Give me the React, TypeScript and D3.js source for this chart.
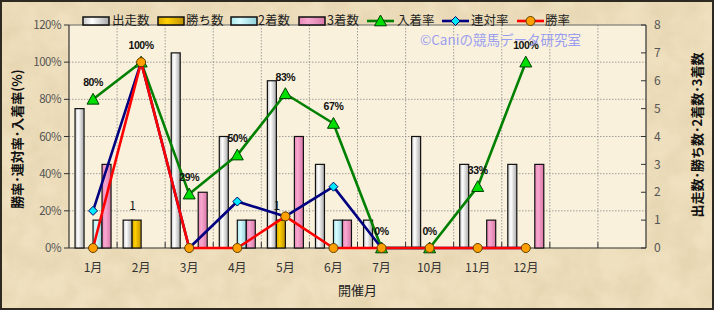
import React from "react";
import * as d3 from "d3";

const months = ["1月", "2月", "3月", "4月", "5月", "6月", "7月", "10月", "11月", "12月"];
const slotCount = 12;
const starts = [5, 1, 7, 4, 6, 3, 1, 4, 3, 3];
const wins = [0, 1, 0, 0, 1, 0, 0, 0, 0, 0];
const seconds = [1, 0, 0, 1, 0, 1, 0, 0, 0, 0];
const thirds = [3, 0, 2, 1, 4, 1, 0, 0, 1, 3];
const placeRate = [0.8, 1, 0.29, 0.5, 0.83, 0.67, 0, 0, 0.33, 1];
const placeLabels = ["80%", "100%", "29%", "50%", "83%", "67%", "0%", "0%", "33%", "100%"];
const quinellaRate = [0.2, 1, 0, 0.25, 0.17, 0.33, 0, 0, 0, 0];
const winRate = [0, 1, 0, 0, 0.17, 0, 0, 0, 0, 0];
const leftTicks = [0, 0.2, 0.4, 0.6, 0.8, 1.0, 1.2];
const rightTicks = [0, 1, 2, 3, 4, 5, 6, 7, 8];

const W = 714, H = 310;
const L = 69, R = 646, T = 25, B = 248;
const FONT = "'Noto Sans CJK JP', sans-serif";

export default function App() {
  const x = d3.scaleBand<number>().domain(d3.range(slotCount)).range([L, R]).padding(0);
  const yL = d3.scaleLinear().domain([0, 1.2]).range([B, T]);
  const yR = d3.scaleLinear().domain([0, 8]).range([B, T]);
  const groupW = 36;
  const inner = d3.scaleBand<number>().domain([0, 1, 2, 3]).range([0, groupW]).padding(0);
  const cx = (i: number) => (x(i) as number) + x.bandwidth() / 2;

  const barSeries = [
    { name: "出走数", values: starts, grad: "gWhite" },
    { name: "勝ち数", values: wins, grad: "gGold" },
    { name: "2着数", values: seconds, grad: "gCyan" },
    { name: "3着数", values: thirds, grad: "gPink" },
  ];
  const lineSeries = [
    { name: "入着率", values: placeRate, color: "#008000", marker: "tri" },
    { name: "連対率", values: quinellaRate, color: "#000080", marker: "dia" },
    { name: "勝率", values: winRate, color: "#ff0000", marker: "cir" },
  ];

  const line = d3.line<number>().x((_, i) => cx(i)).y((d) => yL(d));

  const marker = (type: string, px: number, py: number, key: string) => {
    if (type === "tri") {
      const s = 6;
      return (
        <path key={key} d={`M${px},${py - s}L${px + s},${py + s * 0.8}L${px - s},${py + s * 0.8}Z`}
          fill="#00e000" stroke="#004000" strokeWidth={1} />
      );
    }
    if (type === "dia") {
      const s = 4.5;
      return (
        <path key={key} d={`M${px},${py - s}L${px + s},${py}L${px},${py + s}L${px - s},${py}Z`}
          fill="#00e8ff" stroke="#000060" strokeWidth={1} />
      );
    }
    return <circle key={key} cx={px} cy={py} r={4.5} fill="#ffa000" stroke="#604000" strokeWidth={1} />;
  };

  const legendBars = [
    { x: 83, tx: 112 },
    { x: 158, tx: 186 },
    { x: 231, tx: 258 },
    { x: 299, tx: 327 },
  ];
  const legendLines = [
    { x: 367, tx: 397 },
    { x: 442, tx: 471 },
    { x: 517, tx: 545 },
  ];
  const ly = 21;

  return (
    <svg width={W} height={H} style={{ position: "absolute", left: 0, top: 0 }} fontFamily={FONT}>
      <defs>
        <linearGradient id="gWhite" x1="0" x2="1" y1="0" y2="0">
          <stop offset="0" stopColor="#c8c8c8" />
          <stop offset="0.35" stopColor="#ffffff" />
          <stop offset="1" stopColor="#a8a8a8" />
        </linearGradient>
        <linearGradient id="gGold" x1="0" x2="1" y1="0" y2="0">
          <stop offset="0" stopColor="#d8a800" />
          <stop offset="0.35" stopColor="#ffd000" />
          <stop offset="1" stopColor="#c09000" />
        </linearGradient>
        <linearGradient id="gCyan" x1="0" x2="1" y1="0" y2="0">
          <stop offset="0" stopColor="#a8e8ec" />
          <stop offset="0.35" stopColor="#d8fcff" />
          <stop offset="1" stopColor="#90d0d8" />
        </linearGradient>
        <linearGradient id="gPink" x1="0" x2="1" y1="0" y2="0">
          <stop offset="0" stopColor="#e888b8" />
          <stop offset="0.35" stopColor="#f8a8d0" />
          <stop offset="1" stopColor="#d878a8" />
        </linearGradient>
        <filter id="paper" x="0" y="0" width="100%" height="100%">
          <feTurbulence type="fractalNoise" baseFrequency="0.04" numOctaves={4} seed={3} result="n" />
          <feColorMatrix type="matrix" in="n"
            values="0 0 0 0 0.55  0 0 0 0 0.42  0 0 0 0 0.2  0 0 0 0.9 -0.25" />
        </filter>
      </defs>

      {/* background */}
      <rect x={0} y={0} width={W} height={H} fill="#efe0bf" />
      <rect x={0} y={0} width={W} height={H} filter="url(#paper)" opacity={0.4} />
      <rect x={1} y={1} width={W - 2} height={H - 2} fill="none" stroke="#2e2a22" strokeWidth={2} />

      {/* plot area */}
      <rect x={L} y={T} width={R - L} height={B - T} fill="#f9f1dc" />

      {/* grid */}
      {leftTicks.slice(1, -1).map((t) => (
        <line key={"h" + t} x1={L} x2={R} y1={yL(t)} y2={yL(t)} stroke="#8a8a8a" strokeDasharray="1.5,1.5" strokeWidth={0.8} />
      ))}
      {d3.range(1, slotCount).map((i) => (
        <line key={"v" + i} x1={x(i)} x2={x(i)} y1={T} y2={B} stroke="#8a8a8a" strokeDasharray="1.5,1.5" strokeWidth={0.8} />
      ))}
      {d3.range(1, slotCount).map((i) => (
        <line key={"xt" + i} x1={x(i)} x2={x(i)} y1={B - 6} y2={B} stroke="#333" strokeWidth={1} />
      ))}

      {/* plot border */}
      <line x1={L} x2={R} y1={T} y2={T} stroke="#666" strokeWidth={1} />
      <line x1={L} x2={L} y1={T} y2={B} stroke="#333" strokeWidth={1.2} />
      <line x1={R} x2={R} y1={T} y2={B} stroke="#333" strokeWidth={1.2} />
      <line x1={L} x2={R} y1={B} y2={B} stroke="#333" strokeWidth={1.2} />

      {/* left ticks */}
      {leftTicks.map((t) => (
        <g key={"lt" + t}>
          <line x1={L - 5} x2={L} y1={yL(t)} y2={yL(t)} stroke="#333" />
          <text x={L - 8} y={yL(t)} dy="0.35em" textAnchor="end" fontSize={11.5} fill="#555" letterSpacing={-0.5}>
            {Math.round(t * 100) + "%"}
          </text>
        </g>
      ))}
      {/* right ticks */}
      {rightTicks.map((t) => (
        <g key={"rt" + t}>
          <line x1={R - 5} x2={R} y1={yR(t)} y2={yR(t)} stroke="#333" />
          <text x={R + 8} y={yR(t)} dy="0.35em" textAnchor="start" fontSize={12} fill="#555">
            {t}
          </text>
        </g>
      ))}

      {/* bars */}
      {barSeries.map((s, si) =>
        s.values.map((v, i) =>
          v > 0 ? (
            <rect key={s.name + i}
              x={cx(i) - groupW / 2 + (inner(si) as number)}
              y={yR(v)} width={inner.bandwidth()} height={B - yR(v)}
              fill={`url(#${s.grad})`} stroke="#111" strokeWidth={1.2} />
          ) : null
        )
      )}

      {/* lines */}
      {lineSeries.map((s) => (
        <g key={s.name}>
          <path d={line(s.values) as string} fill="none" stroke={s.color} strokeWidth={2.6} strokeLinejoin="round" />
          {s.values.map((v, i) => marker(s.marker, cx(i), yL(v), s.name + "m" + i))}
        </g>
      ))}
      {wins.map((v, i) =>
        v > 0 ? (
          <text key={"wl" + i} x={cx(i) - groupW / 2 + (inner(1) as number) + inner.bandwidth() / 2 - 4} y={yR(v) - 10}
            textAnchor="middle" fontSize={12} fill="#111">{v}</text>
        ) : null
      )}
      {placeRate.map((v, i) => (
        <text key={"pl" + i} x={cx(i)} y={yL(v) - 13} textAnchor="middle" fontSize={10.5} fontWeight="bold"
          fontFamily="'Liberation Sans', sans-serif" fill="#111" letterSpacing={-0.4}>
          {placeLabels[i]}
        </text>
      ))}

      {/* watermark */}
      <text x={420} y={45} fontSize={13.5} fill="#9a9ef0" fontFamily={FONT}>©Caniの競馬データ研究室</text>

      {/* x labels */}
      {months.map((m, i) => (
        <text key={m} x={cx(i)} y={268} dy="0.35em" textAnchor="middle" fontSize={12} fill="#333">{m}</text>
      ))}
      <text x={(L + R) / 2} y={290} dy="0.35em" textAnchor="middle" fontSize={13} fill="#222">開催月</text>

      {/* axis titles */}
      <text transform={`translate(17,139) rotate(-90)`} textAnchor="middle" dy="0.35em" fontSize={13} fontWeight="bold" fill="#111">
        勝率･連対率･入着率(%)
      </text>
      <text transform={`translate(697,135) rotate(-90)`} textAnchor="middle" dy="0.35em" fontSize={13} fontWeight="bold" fill="#111">
        出走数･勝ち数･2着数･3着数
      </text>

      {/* legend */}
      {barSeries.map((s, i) => (
        <g key={"lg" + s.name}>
          <rect x={legendBars[i].x} y={ly - 4} width={26} height={8} fill={`url(#${s.grad})`} stroke="#111" strokeWidth={1.5} />
          <text x={legendBars[i].tx} y={ly} dy="0.35em" fontSize={12.5} fill="#222">{s.name}</text>
        </g>
      ))}
      {lineSeries.map((s, i) => (
        <g key={"ll" + s.name}>
          <line x1={legendLines[i].x} x2={legendLines[i].x + 27} y1={ly} y2={ly} stroke={s.color} strokeWidth={2.6} />
          {marker(s.marker, legendLines[i].x + 13.5, ly, "lm" + i)}
          <text x={legendLines[i].tx} y={ly} dy="0.35em" fontSize={12.5} fill="#222">{s.name}</text>
        </g>
      ))}
    </svg>
  );
}
